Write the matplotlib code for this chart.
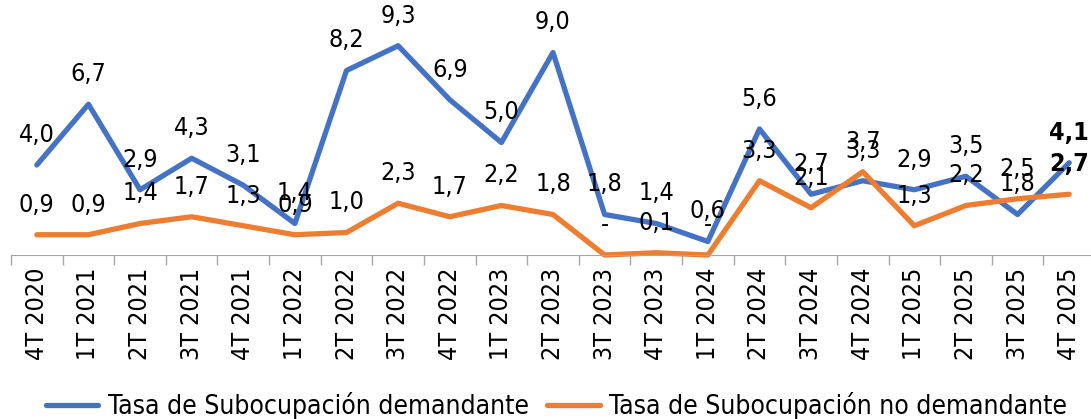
import matplotlib.pyplot as plt

plt.rcParams['font.family'] = ['DejaVu Sans']
plt.rcParams['font.stretch'] = 'condensed'

# datos
trimestres = ['4T 2020', '1T 2021', '2T 2021', '3T 2021', '4T 2021', '1T 2022', '2T 2022',
              '3T 2022', '4T 2022', '1T 2023', '2T 2023', '3T 2023', '4T 2023', '1T 2024',
              '2T 2024', '3T 2024', '4T 2024', '1T 2025', '2T 2025', '3T 2025', '4T 2025']
demandante = [4.0, 6.7, 2.9, 4.3, 3.1, 1.4, 8.2, 9.3, 6.9, 5.0, 9.0,
              1.8, 1.4, 0.6, 5.6, 2.7, 3.3, 2.9, 3.5, 1.8, 4.1]
no_demandante = [0.9, 0.9, 1.4, 1.7, 1.3, 0.9, 1.0, 2.3, 1.7, 2.2, 1.8,
                 0.0, 0.1, 0.0, 3.3, 2.1, 3.7, 1.3, 2.2, 2.5, 2.7]

azul = '#4472C4'
naranja = '#ED7D31'

fig = plt.figure(figsize=(10.91, 4.19), dpi=100)
ax = fig.add_axes([11 / 1091, 1 - 255 / 419, 1084 / 1091, 255 / 419])

x = list(range(len(trimestres)))
ax.plot(x, demandante, color=azul, lw=3.8, solid_capstyle='round', clip_on=False,
        label='Tasa de Subocupación demandante')
ax.plot(x, no_demandante, color=naranja, lw=3.8, solid_capstyle='round', clip_on=False,
        label='Tasa de Subocupación no demandante')


def etiqueta(v):
    return '-' if v == 0 else f'{v:.1f}'.replace('.', ',')


for serie in (demandante, no_demandante):
    for i, v in enumerate(serie):
        ultimo = i == len(serie) - 1
        ax.annotate(etiqueta(v), (i, v), xytext=(0, 13), textcoords='offset points',
                    ha='center', va='bottom', fontsize=18,
                    fontweight='bold' if ultimo else 'normal',
                    color='black', annotation_clip=False)

ax.set_xlim(-0.5, len(trimestres) - 0.5)
ax.set_ylim(0, 255 / 22.5)
ax.set_xticks([i - 0.5 for i in range(len(trimestres) + 1)], minor=False)
ax.set_xticklabels([])
ax.set_xticks(x, minor=True)
ax.set_xticklabels(trimestres, minor=True, rotation=90, fontsize=18)
ax.tick_params(axis='x', which='major', length=7, color='#A6A6A6', width=1)
ax.tick_params(axis='x', which='minor', length=0, pad=9)
ax.set_yticks([])
for s in ['top', 'right', 'left']:
    ax.spines[s].set_visible(False)
ax.spines['bottom'].set_color('#A6A6A6')

fig.legend(loc='lower center', bbox_to_anchor=(0.51, -0.06), ncol=2, frameon=False,
           fontsize=19, handlelength=2.0, handletextpad=0.35, columnspacing=0.7)

fig.savefig('out.png', dpi=100)
